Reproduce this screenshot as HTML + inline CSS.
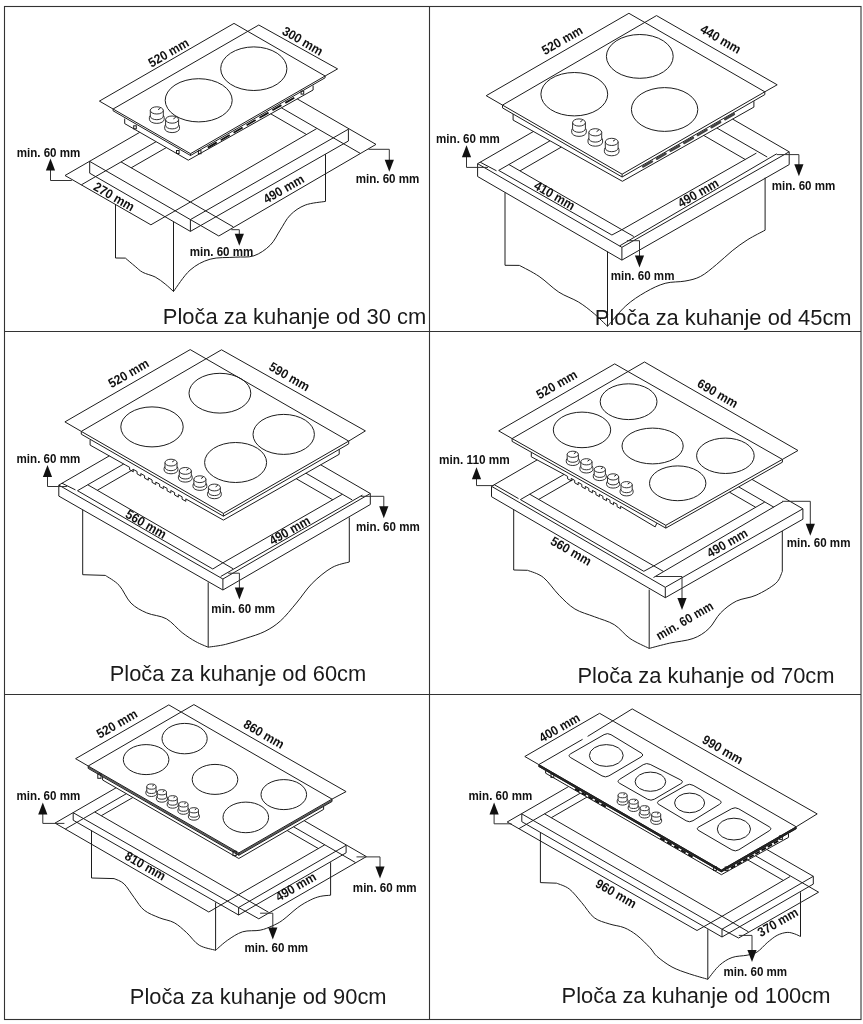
<!DOCTYPE html>
<html><head><meta charset="utf-8"><title>Ploce za kuhanje</title>
<style>
html,body{margin:0;padding:0;background:#fff}
body{width:863px;height:1024px;overflow:hidden}
svg{display:block;filter:grayscale(1)}
path,ellipse,rect{fill:none;stroke:#1c1c1c;stroke-width:1}
.fr{stroke:#333;stroke-width:1.1}
.kn{fill:#fff;stroke-width:.9}
.w{fill:#fff}
.tk{stroke-width:2.3;stroke:#2a2a2a}
.gb{stroke:#555;stroke-width:1.5}
.sl{stroke-width:1.9;stroke:#111}
.so{stroke-width:2.6;stroke:#444;stroke-linecap:round}
.ld{stroke:#333;stroke-width:1}
.ah{fill:#111;stroke:none}
text{font-family:"Liberation Sans",sans-serif;fill:#111}
.b{font-weight:bold}
.c{font-weight:normal;fill:#1a1a1a}
</style></head><body>
<svg width="863" height="1024" viewBox="0 0 863 1024">
<rect x="4.5" y="6.5" width="856.5" height="1013" class="fr"/>
<path class="fr" d="M429.5 6.5V1019.5M4.5 331.5H861M4.5 694.5H861"/>
<path d="M113.1 109L99.4 101.1L234 23.4L247.7 31.3"/>
<path d="M113.1 109L258.8 25L337.6 68.9L325.1 76"/>
<path d="M247.7 31.3L325.1 76"/>
<path class="tk2" d="M113.1 109L190.5 153.7L325.1 76"/>
<path d="M113.1 110.8L190.5 155.5L325.1 77.8"/>
<path d="M113.1 109L113.1 110.8"/>
<path d="M190.5 153.7L190.5 155.5"/>
<path d="M325.1 76L325.1 77.8"/>
<path d="M124.7 118.6L124.7 123.6L188.3 160.2L313.1 90L313.1 85.5"/>
<rect x="133.7" y="125.8" width="2.6" height="3"/>
<rect x="176.5" y="150.5" width="2.6" height="3"/>
<rect x="198.4" y="150.7" width="2.6" height="3"/>
<rect x="301.1" y="91.1" width="2.6" height="3"/>
<path class="sl" d="M207.8 147.6L216.8 142.4"/>
<path class="sl" d="M220.7 140.2L229.7 135"/>
<path class="sl" d="M233.6 132.7L242.6 127.5"/>
<path class="sl" d="M246.6 125.2L255.6 120"/>
<path class="sl" d="M259.5 117.8L268.5 112.6"/>
<path class="sl" d="M272.4 110.3L281.4 105.1"/>
<path class="sl" d="M285.3 102.9L294.3 97.7"/>
<ellipse cx="198.7" cy="100.3" rx="33.5" ry="21.6"/>
<ellipse cx="253.8" cy="68.7" rx="33.1" ry="21.8"/>
<path class="kn" d="M149.4 117.4V119.3A7.4 4.1 0 0 0 164.2 119.3V117.4A7.4 4.1 0 0 0 149.4 117.4Z"/>
<path class="kn" d="M150.3 110.4V116.1A6.5 3.6 0 0 0 163.3 116.1V110.4Z"/>
<ellipse class="kn" cx="156.8" cy="110.4" rx="6.5" ry="3.6"/>
<path d="M158.1 109.7L160.4 108.1"/>
<path class="kn" d="M164.7 126.6V128.5A7.4 4.1 0 0 0 179.5 128.5V126.6A7.4 4.1 0 0 0 164.7 126.6Z"/>
<path class="kn" d="M165.6 119.6V125.3A6.5 3.6 0 0 0 178.6 125.3V119.6Z"/>
<ellipse class="kn" cx="172.1" cy="119.6" rx="6.5" ry="3.6"/>
<path d="M173.4 118.9L175.7 117.3"/>
<path d="M65 175.5L139.8 132.3"/>
<path d="M81.4 184.8L156.1 141.7"/>
<path d="M131.2 167.8L166.3 147.6"/>
<path d="M121 161.9L190.4 202L233.3 226.9"/>
<path d="M89.7 161.4L190.4 219.6L218.8 236"/>
<path d="M89.7 173.2L190.4 231.4"/>
<path d="M89.7 161.4L89.7 173.2"/>
<path d="M190.4 219.6L190.4 231.4"/>
<path d="M65 175.5L150.9 224.8"/>
<path d="M150.9 224.8L190.4 202L316.7 128.6"/>
<path d="M190.4 219.6L348.4 129.2"/>
<path d="M190.4 231.4L348.4 141"/>
<path d="M348.4 129.2L348.4 141"/>
<path d="M218.8 236L376 144.4"/>
<path d="M376 144.4L297.2 98.9"/>
<path d="M360.1 153.3L281.4 107.8"/>
<path d="M306.5 134.5L270.7 113.8"/>
<path d="M115.5 204.6L115.5 258L125.4 258.1C127 259.5 132.3 264 135.2 266.4C138.1 268.8 139.4 270.5 142.7 272.3C146 274.1 151.4 275.1 155.2 277C158.9 278.9 162.1 281.6 165.2 284C168.2 286.4 172.1 290.2 173.5 291.5L173.5 221.8"/>
<path d="M173.5 291.5C176.2 287.9 183.9 275.6 190 270.2C196.1 264.8 202.6 261.4 210.1 259.2C217.6 257 227.8 257.8 235.1 257.2C242.4 256.6 248.1 257.8 253.9 255.8C259.8 253.8 265.8 249.5 270.2 245.2C274.6 240.9 276.9 235.1 280.2 230.1C283.5 225.1 286 219.3 290.2 215.1C294.4 210.9 299.3 207.4 305.2 205.1C311.1 202.8 322.1 202 325.5 201.4L325.5 154.2"/>
<path class="ld" d="M71.8 180.5H50.5V169"/>
<path class="ah" d="M50.5 158.5L45.9 170.5L55.1 170.5Z"/>
<path class="ld" d="M231.3 229.7H239.3V236"/>
<path class="ah" d="M239.3 245.8L234.7 233.8L243.9 233.8Z"/>
<path class="ld" d="M368.5 149.3H389.3V161"/>
<path class="ah" d="M389.3 171.8L384.7 159.8L393.9 159.8Z"/>
<text class="b" transform="translate(170.7 56.5) rotate(-30)" font-size="13" text-anchor="middle" textLength="44.6" lengthAdjust="spacingAndGlyphs">520 mm</text>
<text class="b" transform="translate(300.5 44.8) rotate(30)" font-size="13" text-anchor="middle" textLength="44.6" lengthAdjust="spacingAndGlyphs">300 mm</text>
<text class="b" transform="translate(111.8 200.5) rotate(30)" font-size="13" text-anchor="middle" textLength="44.6" lengthAdjust="spacingAndGlyphs">270 mm</text>
<text class="b" transform="translate(285.9 192.8) rotate(-30)" font-size="13" text-anchor="middle" textLength="44.6" lengthAdjust="spacingAndGlyphs">490 mm</text>
<text class="b" transform="translate(48.5 156.7)" font-size="13" text-anchor="middle" textLength="63.7" lengthAdjust="spacingAndGlyphs">min. 60 mm</text>
<text class="b" transform="translate(221.5 255.8)" font-size="13" text-anchor="middle" textLength="63.7" lengthAdjust="spacingAndGlyphs">min. 60 mm</text>
<text class="b" transform="translate(387.5 182.8)" font-size="13" text-anchor="middle" textLength="63.7" lengthAdjust="spacingAndGlyphs">min. 60 mm</text>
<text class="c" transform="translate(294.5 324.2)" font-size="22" text-anchor="middle" textLength="263.4" lengthAdjust="spacingAndGlyphs">Ploča za kuhanje od 30 cm</text>
<path d="M502.5 105.1L486.2 95.7L628.9 13.3L645.2 22.7"/>
<path d="M502.5 105.1L656.5 15.6L777.2 84.8L764.8 91.8"/>
<path d="M645.2 22.7L764.8 91.8"/>
<path d="M502.5 105.1L622.1 174.2L764.8 91.8"/>
<path d="M502.5 107.9L622.1 177L764.8 94.6"/>
<path d="M502.5 105.1L502.5 107.9"/>
<path d="M622.1 174.2L622.1 177"/>
<path d="M764.8 91.8L764.8 94.6"/>
<path d="M513.1 114L513.1 120.1L622.4 181.3L753.9 107.1L753.9 101.2"/>
<path class="so" d="M643.3 166.5L651.9 161.5"/>
<path class="so" d="M657 158.6L665.5 153.6"/>
<path class="so" d="M670.6 150.7L679.2 145.8"/>
<path class="so" d="M684.3 142.8L692.9 137.9"/>
<path class="so" d="M697.9 135L706.5 130"/>
<path class="so" d="M711.6 127.1L720.1 122.1"/>
<path class="so" d="M725.2 119.2L733.8 114.2"/>
<ellipse cx="574.3" cy="94.2" rx="33.4" ry="21.7"/>
<ellipse cx="639.8" cy="56.4" rx="33.4" ry="21.9"/>
<ellipse cx="664.6" cy="109.5" rx="33.2" ry="21.9"/>
<path class="kn" d="M571.7 130.2V132.3A7.3 4.1 0 0 0 586.3 132.3V130.2A7.3 4.1 0 0 0 571.7 130.2Z"/>
<path class="kn" d="M572.6 122.5V128.7A6.4 3.6 0 0 0 585.4 128.7V122.5Z"/>
<ellipse class="kn" cx="579" cy="122.5" rx="6.4" ry="3.6"/>
<path d="M580.3 121.8L582.5 120.3"/>
<path class="kn" d="M588 140V142.1A7.3 4.1 0 0 0 602.6 142.1V140A7.3 4.1 0 0 0 588 140Z"/>
<path class="kn" d="M588.9 132.3V138.5A6.4 3.6 0 0 0 601.7 138.5V132.3Z"/>
<ellipse class="kn" cx="595.3" cy="132.3" rx="6.4" ry="3.6"/>
<path d="M596.6 131.6L598.8 130.1"/>
<path class="kn" d="M604.4 149.6V151.7A7.3 4.1 0 0 0 619 151.7V149.6A7.3 4.1 0 0 0 604.4 149.6Z"/>
<path class="kn" d="M605.3 141.9V148.1A6.4 3.6 0 0 0 618.1 148.1V141.9Z"/>
<ellipse class="kn" cx="611.7" cy="141.9" rx="6.4" ry="3.6"/>
<path d="M613 141.2L615.2 139.7"/>
<path d="M477.6 163.7L621.9 247.3L789.2 151.8"/>
<path d="M477.6 176.5L621.9 260.1L789.2 164.6"/>
<path d="M477.6 163.7L477.6 176.5"/>
<path d="M621.9 247.3L621.9 260.1"/>
<path d="M789.2 151.8L789.2 164.6"/>
<path d="M477.6 163.7L533.4 131.5"/>
<path d="M498.7 170.4L550 140.8"/>
<path d="M520 170.9L561.3 147.1"/>
<path d="M480.2 162.2L496.5 170.8"/>
<path d="M498.7 170.4L611.9 235"/>
<path d="M611.9 235L621.9 229.7L756.4 153.1"/>
<path d="M508.9 164.5L621.9 229.7L633.8 236.5"/>
<path d="M619.6 245.9L776.7 153.8"/>
<path d="M767.2 157L716.9 128"/>
<path d="M745.3 159.5L703.7 135.4"/>
<path d="M789.2 151.8L732.6 119.1"/>
<path d="M505 192.5L505 265.3L519.4 265.4C522.7 267.2 532.5 271.9 539.1 276.4C545.7 280.8 552.2 287.8 558.8 292.1C565.4 296.4 572.6 298.4 578.5 302C584.4 305.6 589.5 309.8 594.3 313.8C599.1 317.9 605.3 324.2 607.5 326.3L607.5 251.5"/>
<path d="M607.5 326.3C610.5 322.9 619.5 311.6 625.8 305.9C632.1 300.2 638.9 295.9 645.5 292.1C652.1 288.3 658.6 285.1 665.2 283.3C671.8 281.5 679 282.2 684.9 281.1C690.8 280 695.4 279.1 700.6 276.4C705.9 273.6 711.1 268.9 716.4 264.6C721.7 260.3 727 255 732.2 250.8C737.5 246.6 742.4 242.9 747.9 239.5C753.4 236.1 762.2 231.8 765.1 230.2L765.1 177.7"/>
<path class="ld" d="M488 167.4H466.5V157"/>
<path class="ah" d="M466.5 145.2L461.9 157.2L471.1 157.2Z"/>
<path class="ld" d="M626.9 240.7H639.5V256"/>
<path class="ah" d="M639.5 267.6L634.9 255.6L644.1 255.6Z"/>
<path class="ld" d="M776.7 154.6H798.9V165"/>
<path class="ah" d="M798.9 176.3L794.3 164.3L803.5 164.3Z"/>
<text class="b" transform="translate(564.4 44) rotate(-30)" font-size="13" text-anchor="middle" textLength="44.6" lengthAdjust="spacingAndGlyphs">520 mm</text>
<text class="b" transform="translate(718.5 42.9) rotate(30)" font-size="13" text-anchor="middle" textLength="44.6" lengthAdjust="spacingAndGlyphs">440 mm</text>
<text class="b" transform="translate(552.3 199.3) rotate(30)" font-size="13" text-anchor="middle" textLength="44.6" lengthAdjust="spacingAndGlyphs">410 mm</text>
<text class="b" transform="translate(700.4 196.8) rotate(-30)" font-size="13" text-anchor="middle" textLength="44.6" lengthAdjust="spacingAndGlyphs">490 mm</text>
<text class="b" transform="translate(467.9 142.5)" font-size="13" text-anchor="middle" textLength="63.7" lengthAdjust="spacingAndGlyphs">min. 60 mm</text>
<text class="b" transform="translate(642.6 280.1)" font-size="13" text-anchor="middle" textLength="63.7" lengthAdjust="spacingAndGlyphs">min. 60 mm</text>
<text class="b" transform="translate(803.5 189.6)" font-size="13" text-anchor="middle" textLength="63.7" lengthAdjust="spacingAndGlyphs">min. 60 mm</text>
<text class="c" transform="translate(723.2 324.5)" font-size="22" text-anchor="middle" textLength="256.8" lengthAdjust="spacingAndGlyphs">Ploča za kuhanje od 45cm</text>
<path d="M81.3 431.4L64.9 421.9L190.2 349.6L206.6 359.1"/>
<path d="M81.3 431.4L221.5 349.8L365.4 430.9L348.7 441.1"/>
<path d="M206.6 359.1L348.7 441.1"/>
<path d="M81.3 431.4L223.4 513.4L348.7 441.1"/>
<path d="M81.3 434.2L223.4 516.2L348.7 443.9"/>
<path d="M81.3 431.4L81.3 434.2"/>
<path d="M223.4 513.4L223.4 516.2"/>
<path d="M348.7 441.1L348.7 443.9"/>
<path d="M90.1 440L90.1 445.1L125.8 465.2"/>
<path d="M125.8 465.2L129.6 467.3L129.6 469.7L133.3 471.8L133.3 469.4L137.1 471.5L137.1 473.9L140.8 476L140.8 473.6L144.6 475.7L144.6 478.1L148.3 480.2L148.3 477.8L152.1 480L152.1 482.4L155.8 484.5L155.8 482.1L159.6 484.2L159.6 486.6L163.3 488.7L163.3 486.3L167.1 488.4L167.1 490.8L170.8 492.9L170.8 490.5L174.6 492.6L174.6 495L178.3 497.1L178.3 494.7L182.1 496.8L182.1 499.2L185.8 501.3L185.8 498.9"/>
<path d="M185.8 498.9L223.4 520.1L339.2 454.3L339.2 449.2"/>
<ellipse cx="152" cy="426.9" rx="31.2" ry="20"/>
<ellipse cx="219.9" cy="393.2" rx="30.9" ry="19.9"/>
<ellipse cx="235.6" cy="462.5" rx="31" ry="20"/>
<ellipse cx="283.7" cy="434.4" rx="30.7" ry="20"/>
<path class="kn" d="M164.1 468.4V469.9A6.9 3.9 0 0 0 177.9 469.9V468.4A6.9 3.9 0 0 0 164.1 468.4Z"/>
<path class="kn" d="M165 462.6V467.3A6 3.4 0 0 0 177 467.3V462.6Z"/>
<ellipse class="kn" cx="171" cy="462.6" rx="6" ry="3.4"/>
<path d="M172.2 461.9L174.3 460.5"/>
<path class="kn" d="M178.4 476.7V478.2A6.9 3.9 0 0 0 192.2 478.2V476.7A6.9 3.9 0 0 0 178.4 476.7Z"/>
<path class="kn" d="M179.3 470.9V475.6A6 3.4 0 0 0 191.3 475.6V470.9Z"/>
<ellipse class="kn" cx="185.3" cy="470.9" rx="6" ry="3.4"/>
<path d="M186.5 470.2L188.6 468.8"/>
<path class="kn" d="M193 485V486.5A6.9 3.9 0 0 0 206.8 486.5V485A6.9 3.9 0 0 0 193 485Z"/>
<path class="kn" d="M193.9 479.2V483.9A6 3.4 0 0 0 205.9 483.9V479.2Z"/>
<ellipse class="kn" cx="199.9" cy="479.2" rx="6" ry="3.4"/>
<path d="M201.1 478.5L203.2 477.1"/>
<path class="kn" d="M207.5 493.3V494.8A6.9 3.9 0 0 0 221.3 494.8V493.3A6.9 3.9 0 0 0 207.5 493.3Z"/>
<path class="kn" d="M208.4 487.5V492.2A6 3.4 0 0 0 220.4 492.2V487.5Z"/>
<ellipse class="kn" cx="214.4" cy="487.5" rx="6" ry="3.4"/>
<path d="M215.6 486.8L217.7 485.4"/>
<path d="M58.8 485.1L222.9 579L370.3 493.5"/>
<path d="M58.8 496.1L222.9 590L370.3 504.5"/>
<path d="M58.8 485.1L58.8 496.1"/>
<path d="M222.9 579L222.9 590"/>
<path d="M370.3 493.5L370.3 504.5"/>
<path d="M58.8 485.1L109.3 455.9"/>
<path d="M77.5 490.7L123.7 464"/>
<path d="M97.3 490.3L133.4 469.4"/>
<path d="M61.9 483.2L75.5 489.9"/>
<path d="M77.5 490.7L212.8 569"/>
<path d="M212.8 569L222.9 562.8L342.3 494.3"/>
<path d="M87.8 484.8L222.9 562.8L233.2 568.8"/>
<path d="M220.7 576.5L362.4 495.1"/>
<path d="M352.2 499.9L305.9 473.2"/>
<path d="M332.8 499.8L296.2 478.7"/>
<path d="M370.3 493.5L320.7 464.8"/>
<path d="M82.7 509.8L82.7 574.7L105.3 575.4C107.6 577 114.8 580.7 119.1 585.3C123.4 589.9 126.3 598.4 130.9 603C135.5 607.6 140.8 610.3 146.7 612.9C152.6 615.5 160.5 615.5 166.4 618.8C172.3 622.1 177.2 628.8 182.1 632.6C187 636.4 191.6 639.3 195.9 641.7C200.2 644.1 206.1 646.3 208.2 647.2L208.2 582.4"/>
<path d="M208.2 647.2C211.1 646.7 219.3 645.9 225.5 644.4C231.7 642.9 238.6 640.7 245.2 638.5C251.8 636.3 259 634.4 264.9 631.4C270.8 628.4 275.4 625.5 280.6 620.8C285.9 616.1 291.1 609.2 296.4 603C301.7 596.8 306.3 589.2 312.2 583.3C318.1 577.4 325.7 571.1 331.9 567.6C338.1 564.1 346.4 562.9 349.3 562L349.3 517.4"/>
<path class="ld" d="M66.9 486.5H47.5V477"/>
<path class="ah" d="M47.5 465L42.9 477L52.1 477Z"/>
<path class="ld" d="M228.2 573.2H239.4V588"/>
<path class="ah" d="M239.4 599.4L234.8 587.4L244 587.4Z"/>
<path class="ld" d="M360.8 496.3H383.8V507"/>
<path class="ah" d="M383.8 518.2L379.2 506.2L388.4 506.2Z"/>
<text class="b" transform="translate(130.7 377.2) rotate(-30)" font-size="13" text-anchor="middle" textLength="44.6" lengthAdjust="spacingAndGlyphs">520 mm</text>
<text class="b" transform="translate(287.2 380.5) rotate(30)" font-size="13" text-anchor="middle" textLength="44.6" lengthAdjust="spacingAndGlyphs">590 mm</text>
<text class="b" transform="translate(143.8 528) rotate(30)" font-size="13" text-anchor="middle" textLength="44.6" lengthAdjust="spacingAndGlyphs">560 mm</text>
<text class="b" transform="translate(291.8 534.3) rotate(-30)" font-size="13" text-anchor="middle" textLength="44.6" lengthAdjust="spacingAndGlyphs">490 mm</text>
<text class="b" transform="translate(48.4 462.5)" font-size="13" text-anchor="middle" textLength="63.7" lengthAdjust="spacingAndGlyphs">min. 60 mm</text>
<text class="b" transform="translate(243.2 612.6)" font-size="13" text-anchor="middle" textLength="63.7" lengthAdjust="spacingAndGlyphs">min. 60 mm</text>
<text class="b" transform="translate(387.9 531)" font-size="13" text-anchor="middle" textLength="63.7" lengthAdjust="spacingAndGlyphs">min. 60 mm</text>
<text class="c" transform="translate(238 680.6)" font-size="22" text-anchor="middle" textLength="256.5" lengthAdjust="spacingAndGlyphs">Ploča za kuhanje od 60cm</text>
<path d="M512.1 438.6L498.7 430.9L614.7 363.9L628.1 371.6"/>
<path d="M512.1 438.6L644.5 362L798 450.5L782.4 459.4"/>
<path d="M628.1 371.6L782.4 459.4"/>
<path d="M512.1 438.6L665.8 525.3L782.4 459.4"/>
<path d="M512.1 441.4L665.8 528.1L782.4 462.2"/>
<path d="M512.1 438.6L512.1 441.4"/>
<path d="M665.8 525.3L665.8 528.1"/>
<path d="M782.4 459.4L782.4 462.2"/>
<path d="M531.3 452.4L531.3 456.8L564.1 474.4"/>
<path d="M564.1 474.4L567.6 476.4L567.6 478.8L571.2 480.8L571.2 478.4L574.7 480.4L574.7 482.8L578.2 484.8L578.2 482.4L581.8 484.4L581.8 486.8L585.3 488.8L585.3 486.4L588.8 488.4L588.8 490.8L592.4 492.8L592.4 490.4L595.9 492.3L595.9 494.7L599.4 496.7L599.4 494.3L602.9 496.3L602.9 498.7L606.5 500.7L606.5 498.3L610 500.3L610 502.7L613.5 504.7L613.5 502.3L617.1 504.3L617.1 506.7L620.6 508.7L620.6 506.3"/>
<path d="M620.6 506.3L655.2 526.9L656.8 523.2"/>
<ellipse cx="582" cy="429.9" rx="28.7" ry="17.8"/>
<ellipse cx="628.6" cy="401.7" rx="28.4" ry="17.9"/>
<ellipse cx="652.6" cy="446" rx="30.6" ry="17.9"/>
<ellipse cx="677.7" cy="483.3" rx="28.2" ry="17.4"/>
<ellipse cx="725.4" cy="455.8" rx="28.8" ry="17.7"/>
<path class="kn" d="M566.3 460.3V461.9A6.5 3.6 0 0 0 579.3 461.9V460.3A6.5 3.6 0 0 0 566.3 460.3Z"/>
<path class="kn" d="M567.2 454.3V459.2A5.6 3.1 0 0 0 578.4 459.2V454.3Z"/>
<ellipse class="kn" cx="572.8" cy="454.3" rx="5.6" ry="3.1"/>
<path d="M573.9 453.7L575.9 452.4"/>
<path class="kn" d="M579.9 467.8V469.4A6.5 3.6 0 0 0 592.9 469.4V467.8A6.5 3.6 0 0 0 579.9 467.8Z"/>
<path class="kn" d="M580.8 461.8V466.7A5.6 3.1 0 0 0 592 466.7V461.8Z"/>
<ellipse class="kn" cx="586.4" cy="461.8" rx="5.6" ry="3.1"/>
<path d="M587.5 461.2L589.5 459.9"/>
<path class="kn" d="M593.3 475.4V477A6.5 3.6 0 0 0 606.3 477V475.4A6.5 3.6 0 0 0 593.3 475.4Z"/>
<path class="kn" d="M594.2 469.4V474.3A5.6 3.1 0 0 0 605.4 474.3V469.4Z"/>
<ellipse class="kn" cx="599.8" cy="469.4" rx="5.6" ry="3.1"/>
<path d="M600.9 468.8L602.9 467.5"/>
<path class="kn" d="M606.6 482.9V484.5A6.5 3.6 0 0 0 619.6 484.5V482.9A6.5 3.6 0 0 0 606.6 482.9Z"/>
<path class="kn" d="M607.5 476.9V481.8A5.6 3.1 0 0 0 618.7 481.8V476.9Z"/>
<ellipse class="kn" cx="613.1" cy="476.9" rx="5.6" ry="3.1"/>
<path d="M614.2 476.3L616.2 475"/>
<path class="kn" d="M620.1 490.7V492.3A6.5 3.6 0 0 0 633.1 492.3V490.7A6.5 3.6 0 0 0 620.1 490.7Z"/>
<path class="kn" d="M621 484.7V489.6A5.6 3.1 0 0 0 632.2 489.6V484.7Z"/>
<ellipse class="kn" cx="626.6" cy="484.7" rx="5.6" ry="3.1"/>
<path d="M627.7 484.1L629.7 482.8"/>
<path d="M491.5 486.3L665.3 587.3L802.9 508.8"/>
<path d="M491.5 496.7L665.3 597.7L802.9 519.2"/>
<path d="M491.5 486.3L491.5 496.7"/>
<path d="M665.3 587.3L665.3 597.7"/>
<path d="M802.9 508.8L802.9 519.2"/>
<path d="M491.5 486.3L537.2 459.9"/>
<path d="M520.4 499.6L564.1 474.4"/>
<path d="M538.7 499.4L573.2 479.5"/>
<path d="M494.3 484.7L518.5 498.6"/>
<path d="M520.4 499.6L643.8 571.3"/>
<path d="M643.8 571.3L653.8 565.9L764.7 502.1"/>
<path d="M529.7 494.2L653.8 565.9L663.2 571.3"/>
<path d="M653.5 577.5L783 501.6"/>
<path d="M773.9 507.2L738.7 486.9"/>
<path d="M755.7 507.3L729.4 492.1"/>
<path d="M802.9 508.8L752 479.4"/>
<path d="M513.7 509.6L513.7 570L527.6 570.3C530.2 571.5 538 573.2 543.3 577.4C548.5 581.5 553.8 589.9 559.1 595.2C564.4 600.5 569 605.4 574.9 609C580.8 612.6 588 614.2 594.6 616.8C601.2 619.4 608.4 621.1 614.3 624.7C620.2 628.3 624.2 634.5 630 638.5C635.8 642.5 646 646.8 649.2 648.4L649.2 589.6"/>
<path d="M649.2 648.4C652.6 647.5 662.1 644.9 669.4 643.2C676.7 641.6 686.5 640.9 693.1 638.5C699.7 636.1 704.2 633 708.8 628.7C713.4 624.4 716 617.5 720.6 612.9C725.2 608.3 730.5 604 736.4 601.1C742.3 598.2 749.5 598.2 756.1 595.2C762.7 592.2 771.4 587.2 775.8 583.3C780.2 579.3 781.2 573.5 782.3 571.5L782.3 531"/>
<path class="ld" d="M494.1 485.6H476.5V478"/>
<path class="ah" d="M476.5 467.2L471.9 479.2L481.1 479.2Z"/>
<path class="ld" d="M655.7 576.5H682V599"/>
<path class="ah" d="M682 610.1L677.4 598.1L686.6 598.1Z"/>
<path class="ld" d="M782.1 501.3H810.3V525"/>
<path class="ah" d="M810.3 535.8L805.7 523.8L814.9 523.8Z"/>
<text class="b" transform="translate(558.9 388.3) rotate(-30)" font-size="13" text-anchor="middle" textLength="44.6" lengthAdjust="spacingAndGlyphs">520 mm</text>
<text class="b" transform="translate(715.5 397.2) rotate(30)" font-size="13" text-anchor="middle" textLength="44.6" lengthAdjust="spacingAndGlyphs">690 mm</text>
<text class="b" transform="translate(568.8 554.8) rotate(30)" font-size="13" text-anchor="middle" textLength="44.6" lengthAdjust="spacingAndGlyphs">560 mm</text>
<text class="b" transform="translate(729.3 546.8) rotate(-30)" font-size="13" text-anchor="middle" textLength="44.6" lengthAdjust="spacingAndGlyphs">490 mm</text>
<text class="b" transform="translate(474.4 464.3)" font-size="13" text-anchor="middle" textLength="70.8" lengthAdjust="spacingAndGlyphs">min. 110 mm</text>
<text class="b" transform="translate(686.8 624.5) rotate(-30)" font-size="13" text-anchor="middle" textLength="63.7" lengthAdjust="spacingAndGlyphs">min. 60 mm</text>
<text class="b" transform="translate(818.6 547.4)" font-size="13" text-anchor="middle" textLength="63.7" lengthAdjust="spacingAndGlyphs">min. 60 mm</text>
<text class="c" transform="translate(706 682.6)" font-size="22" text-anchor="middle" textLength="257.1" lengthAdjust="spacingAndGlyphs">Ploča za kuhanje od 70cm</text>
<path d="M88.2 766L75.6 758.7L168.8 704.9L181.4 712.2"/>
<path d="M88.2 766L193.9 704.6L346.1 791.6L332 799.1"/>
<path d="M181.4 712.2L332 799.1"/>
<path class="gb" d="M88.2 767.2L238.8 854.1L332 800.3"/>
<path d="M88.2 766L238.8 852.9L332 799.1"/>
<path d="M88.2 768.4L238.8 855.3L332 801.5"/>
<path d="M88.2 766L88.2 768.4"/>
<path d="M238.8 852.9L238.8 855.3"/>
<path d="M332 799.1L332 801.5"/>
<path d="M102.6 776.9L102.6 780L238.8 858.5L323.6 809.4L323.6 806.6"/>
<rect x="97.8" y="773.9" width="3.2" height="4.4"/>
<rect x="233" y="851.2" width="3.2" height="4.4"/>
<ellipse cx="146.1" cy="759.6" rx="22.8" ry="15"/>
<ellipse cx="184.6" cy="738.6" rx="22.6" ry="15.2"/>
<ellipse cx="215" cy="779.4" rx="22.8" ry="15"/>
<ellipse cx="245.8" cy="817.4" rx="22.8" ry="15.3"/>
<ellipse cx="283.8" cy="794.6" rx="22.8" ry="15"/>
<path class="kn" d="M145.9 791.9V793.4A5.5 3.1 0 0 0 156.9 793.4V791.9A5.5 3.1 0 0 0 145.9 791.9Z"/>
<path class="kn" d="M146.8 786.6V790.9A4.6 2.6 0 0 0 156 790.9V786.6Z"/>
<ellipse class="kn" cx="151.4" cy="786.6" rx="4.6" ry="2.6"/>
<path d="M152.3 786.1L153.9 785"/>
<path class="kn" d="M156.4 797.6V799.1A5.5 3.1 0 0 0 167.4 799.1V797.6A5.5 3.1 0 0 0 156.4 797.6Z"/>
<path class="kn" d="M157.3 792.3V796.6A4.6 2.6 0 0 0 166.5 796.6V792.3Z"/>
<ellipse class="kn" cx="161.9" cy="792.3" rx="4.6" ry="2.6"/>
<path d="M162.8 791.8L164.4 790.7"/>
<path class="kn" d="M167.2 803.6V805.1A5.5 3.1 0 0 0 178.2 805.1V803.6A5.5 3.1 0 0 0 167.2 803.6Z"/>
<path class="kn" d="M168.1 798.3V802.6A4.6 2.6 0 0 0 177.3 802.6V798.3Z"/>
<ellipse class="kn" cx="172.7" cy="798.3" rx="4.6" ry="2.6"/>
<path d="M173.6 797.8L175.2 796.7"/>
<path class="kn" d="M177.9 809.7V811.2A5.5 3.1 0 0 0 188.9 811.2V809.7A5.5 3.1 0 0 0 177.9 809.7Z"/>
<path class="kn" d="M178.8 804.4V808.7A4.6 2.6 0 0 0 188 808.7V804.4Z"/>
<ellipse class="kn" cx="183.4" cy="804.4" rx="4.6" ry="2.6"/>
<path d="M184.3 803.9L185.9 802.8"/>
<path class="kn" d="M188.4 815.6V817.1A5.5 3.1 0 0 0 199.4 817.1V815.6A5.5 3.1 0 0 0 188.4 815.6Z"/>
<path class="kn" d="M189.3 810.3V814.6A4.6 2.6 0 0 0 198.5 814.6V810.3Z"/>
<ellipse class="kn" cx="193.9" cy="810.3" rx="4.6" ry="2.6"/>
<path d="M194.8 809.8L196.4 808.7"/>
<path d="M55 823.1L116.1 787.8"/>
<path d="M65.3 829L126.4 793.7"/>
<path d="M101.3 815.7L132.9 797.5"/>
<path d="M94.8 812L238.3 894.8L268.6 912.3"/>
<path d="M73.2 812.7L238.6 907.5L258.8 918.8"/>
<path d="M73.2 820.2L238.6 915"/>
<path d="M73.2 812.7L73.2 820.2"/>
<path d="M238.6 907.5L238.6 915"/>
<path d="M55 823.1L208.8 912"/>
<path d="M208.8 912L238.3 894.8L324.8 844.8"/>
<path d="M238.6 907.5L346.1 845.3"/>
<path d="M238.6 915L346.1 852.8"/>
<path d="M346.1 845.3L346.1 852.8"/>
<path d="M258.8 918.8L366.4 856.6"/>
<path d="M366.4 856.6L304.2 820.7"/>
<path d="M355.6 862.6L293.6 826.8"/>
<path d="M318.3 848.5L287.1 830.5"/>
<path d="M91.5 830.7L91.5 878L114.1 878.6C115.8 879.5 120.8 880.7 124.1 883.9C127.4 887.1 130.8 893.2 134.2 897.6C137.5 902 140 906.9 144.2 910.2C148.4 913.6 154.2 915.6 159.2 917.7C164.2 919.8 169.6 920.2 174.2 922.7C178.8 925.2 182.5 929 186.7 932.7C190.9 936.5 194.4 942.3 199.2 945.2C204 948.1 212.9 949.4 215.6 950.3L215.6 902.4"/>
<path d="M215.6 950.3C217.6 948.6 223.1 943.3 227.6 940.2C232.1 937.1 237.2 933.5 242.6 931.8C248 930.1 255.2 931.2 260.1 930.2C265 929.2 268.2 927.7 272 926C275.8 924.3 278.3 923.3 282.6 920.2C286.9 917.1 293.1 911 297.7 907.6C302.3 904.2 306.4 902 310.2 900.1C313.9 898.2 316.8 897.2 320.2 896.4C323.6 895.6 328.9 895.4 330.6 895.2L330.6 862.3"/>
<path class="ld" d="M64.4 823.4H42.8V814"/>
<path class="ah" d="M42.8 802.5L38.2 814.5L47.4 814.5Z"/>
<path class="ld" d="M260.1 913.2H272.8V928"/>
<path class="ah" d="M272.8 939.5L268.2 927.5L277.4 927.5Z"/>
<path class="ld" d="M356.5 856.9H380V868"/>
<path class="ah" d="M380 878.6L375.4 866.6L384.6 866.6Z"/>
<text class="b" transform="translate(119.1 727.7) rotate(-30)" font-size="13" text-anchor="middle" textLength="44.6" lengthAdjust="spacingAndGlyphs">520 mm</text>
<text class="b" transform="translate(261.7 738) rotate(30)" font-size="13" text-anchor="middle" textLength="44.6" lengthAdjust="spacingAndGlyphs">860 mm</text>
<text class="b" transform="translate(143.1 869.7) rotate(30)" font-size="13" text-anchor="middle" textLength="44.6" lengthAdjust="spacingAndGlyphs">810 mm</text>
<text class="b" transform="translate(298 890.5) rotate(-30)" font-size="13" text-anchor="middle" textLength="44.6" lengthAdjust="spacingAndGlyphs">490 mm</text>
<text class="b" transform="translate(48.4 799.5)" font-size="13" text-anchor="middle" textLength="63.7" lengthAdjust="spacingAndGlyphs">min. 60 mm</text>
<text class="b" transform="translate(276.3 952.4)" font-size="13" text-anchor="middle" textLength="63.7" lengthAdjust="spacingAndGlyphs">min. 60 mm</text>
<text class="b" transform="translate(384.7 892)" font-size="13" text-anchor="middle" textLength="63.7" lengthAdjust="spacingAndGlyphs">min. 60 mm</text>
<text class="c" transform="translate(258.2 1003.7)" font-size="22" text-anchor="middle" textLength="256.8" lengthAdjust="spacingAndGlyphs">Ploča za kuhanje od 90cm</text>
<path d="M538.8 764.6L524.8 756.5L599.6 713.3L613.6 721.4"/>
<path d="M538.8 764.6L582.6 739.3"/>
<path d="M587.6 736.4L632.2 708.9L817.2 813.9L796.2 826.8"/>
<path d="M613.6 721.4L796.2 826.8"/>
<path class="tk" d="M538.8 765.6L721.4 871L796.2 827.8"/>
<path d="M538.8 764.6L721.4 870L796.2 826.8"/>
<path d="M538.8 766.5L721.4 871.9L796.2 828.7"/>
<path d="M538.8 764.6L538.8 766.5"/>
<path d="M721.4 870L721.4 871.9"/>
<path d="M796.2 826.8L796.2 828.7"/>
<path d="M545.6 771L545.6 773.2L721.4 874.7L788.5 837.4L788.5 833.6"/>
<rect x="551" y="773.8" width="2.8" height="3.6"/>
<rect x="713.6" y="866.8" width="2.8" height="3.6"/>
<rect x="725.2" y="867" width="2.8" height="3.6"/>
<rect x="779.6" y="835.8" width="2.8" height="3.6"/>
<path class="sl" d="M575 788.9L579.4 791.4"/>
<path class="sl" d="M581.6 792.7L586 795.3"/>
<path class="sl" d="M588.2 796.5L592.6 799.1"/>
<path class="sl" d="M594.8 800.3L599.2 802.9"/>
<path class="sl" d="M601.4 804.1L605.8 806.7"/>
<path class="sl" d="M660.2 838.1L664.6 840.6"/>
<path class="sl" d="M667.2 842.1L671.6 844.7"/>
<path class="sl" d="M674.2 846.2L678.6 848.7"/>
<path class="sl" d="M681.2 850.2L685.6 852.8"/>
<path class="sl" d="M688.2 854.3L692.6 856.8"/>
<path class="sl" d="M730.8 868.2L735.2 865.7"/>
<path class="sl" d="M736.9 864.6L741.4 862.1"/>
<path class="sl" d="M743.1 861.1L747.5 858.6"/>
<path class="sl" d="M749.2 857.5L753.7 855"/>
<path class="sl" d="M755.4 854L759.8 851.5"/>
<path class="sl" d="M761.5 850.4L766 847.9"/>
<path class="sl" d="M767.7 846.9L772.1 844.4"/>
<path class="sl" d="M773.8 843.3L778.2 840.8"/>
<path d="M570.8 757.7Q567.3 755.7 570.8 753.7L604.1 734.6Q607.6 732.6 611 734.7L641 752.9Q644.4 755 641 757L608.9 775.9Q605.5 777.9 602 775.9Z"/>
<path d="M619.8 783.4Q616.3 781.4 619.7 779.3L643.2 764.7Q646.6 762.6 650.2 764.4L680.6 779.9Q684.2 781.7 680.8 783.7L654.4 799.2Q651 801.2 647.5 799.2Z"/>
<path d="M659.1 804.6Q655.7 802.6 659.2 800.6L686.1 785.3Q689.6 783.3 693.1 785.3L719.4 800.2Q722.9 802.2 719.5 804.3L693 820.7Q689.6 822.8 686.2 820.8Z"/>
<path d="M699 830.7Q695.5 828.7 699 826.8L731.7 808.7Q735.2 806.8 738.7 808.8L769.1 826.7Q772.6 828.7 769.2 830.8L738.8 849.8Q735.4 851.9 731.9 849.9Z"/>
<ellipse cx="606.3" cy="755.5" rx="16.9" ry="10.9"/>
<ellipse cx="650.4" cy="781.7" rx="15.3" ry="9.6"/>
<ellipse cx="689.6" cy="802.9" rx="15" ry="9.8"/>
<ellipse cx="733.9" cy="829.1" rx="16.6" ry="10.9"/>
<path class="kn" d="M617.2 800.6V802.1A5.4 3 0 0 0 628 802.1V800.6A5.4 3 0 0 0 617.2 800.6Z"/>
<path class="kn" d="M618.1 795.3V799.6A4.5 2.5 0 0 0 627.1 799.6V795.3Z"/>
<ellipse class="kn" cx="622.6" cy="795.3" rx="4.5" ry="2.5"/>
<path d="M623.5 794.8L625.1 793.7"/>
<path class="kn" d="M628.2 807V808.5A5.4 3 0 0 0 639 808.5V807A5.4 3 0 0 0 628.2 807Z"/>
<path class="kn" d="M629.1 801.7V806A4.5 2.5 0 0 0 638.1 806V801.7Z"/>
<ellipse class="kn" cx="633.6" cy="801.7" rx="4.5" ry="2.5"/>
<path d="M634.5 801.2L636.1 800.1"/>
<path class="kn" d="M639.2 813.5V815A5.4 3 0 0 0 650 815V813.5A5.4 3 0 0 0 639.2 813.5Z"/>
<path class="kn" d="M640.1 808.2V812.5A4.5 2.5 0 0 0 649.1 812.5V808.2Z"/>
<ellipse class="kn" cx="644.6" cy="808.2" rx="4.5" ry="2.5"/>
<path d="M645.5 807.7L647.1 806.6"/>
<path class="kn" d="M650.8 819.9V821.4A5.4 3 0 0 0 661.6 821.4V819.9A5.4 3 0 0 0 650.8 819.9Z"/>
<path class="kn" d="M651.7 814.6V818.9A4.5 2.5 0 0 0 660.7 818.9V814.6Z"/>
<ellipse class="kn" cx="656.2" cy="814.6" rx="4.5" ry="2.5"/>
<path d="M657.1 814.1L658.7 813"/>
<path d="M507.2 822L568.7 786.5"/>
<path d="M519 828.6L580.3 793.2"/>
<path d="M551.3 817.7L587 797.1"/>
<path d="M544.5 813.8L722 916.3L748.4 931.8"/>
<path d="M521.8 813.9L722 929.2L738.6 938"/>
<path d="M521.8 821.7L722 937"/>
<path d="M521.8 813.9L521.8 821.7"/>
<path d="M722 929.2L722 937"/>
<path d="M507.2 822L697 930.5"/>
<path d="M697 930.5L722 916.3L790.1 876.5"/>
<path d="M722 929.2L813.3 876.3"/>
<path d="M722 937L813.3 884.1"/>
<path d="M813.3 876.3L813.3 884.1"/>
<path d="M738.6 938L818.6 892.2"/>
<path d="M813.3 876.3L766.8 849.5"/>
<path d="M818.6 892.2L755.5 855.8"/>
<path d="M783.3 880.4L747.9 860"/>
<path d="M540.4 832.6L540.4 882.6L556.7 883.2C558.8 884.2 565 885.7 569.2 888.9C573.4 892.1 577.5 897.8 581.7 902.6C585.9 907.4 589.6 914.2 594.2 917.7C598.8 921.2 604.2 922.2 609.2 923.9C614.2 925.6 619.6 925.8 624.2 927.7C628.8 929.6 632.5 931.9 636.8 935.2C641.1 938.5 646.6 944.2 650 947.7C653.4 951.2 653.3 953.2 657 956.4C660.7 959.6 666.6 964.1 672 967C677.4 969.9 683.6 971.9 689.6 973.9C695.6 975.9 704.8 978.4 707.8 979.3L707.8 929.3"/>
<path d="M707.8 979.3C709.8 976.9 715.5 968.8 719.6 965.2C723.7 961.6 727.5 959.2 732.1 957.5C736.7 955.8 742.9 956.1 747.1 955.2C751.3 954.3 753.8 954.1 757.1 952C760.5 949.9 763.9 945.5 767.2 942.7C770.6 939.9 773.9 937 777.2 935.3C780.5 933.6 784.3 932.6 787.2 932.4C790.1 932.2 792.5 933.2 794.7 933.9C796.9 934.6 799.5 936.1 800.5 936.5L800.5 892.3"/>
<path class="ld" d="M511.6 823.8H494.1V814"/>
<path class="ah" d="M494.1 802.5L489.5 814.5L498.7 814.5Z"/>
<path class="ld" d="M738.8 935.4H752V951"/>
<path class="ah" d="M752 962L747.4 950L756.6 950Z"/>
<text class="b" transform="translate(561.6 731.5) rotate(-30)" font-size="13" text-anchor="middle" textLength="44.6" lengthAdjust="spacingAndGlyphs">400 mm</text>
<text class="b" transform="translate(720.5 753.5) rotate(30)" font-size="13" text-anchor="middle" textLength="44.6" lengthAdjust="spacingAndGlyphs">990 mm</text>
<text class="b" transform="translate(613.9 897.3) rotate(30)" font-size="13" text-anchor="middle" textLength="44.6" lengthAdjust="spacingAndGlyphs">960 mm</text>
<text class="b" transform="translate(780 926) rotate(-30)" font-size="13" text-anchor="middle" textLength="44.6" lengthAdjust="spacingAndGlyphs">370 mm</text>
<text class="b" transform="translate(500.4 799.5)" font-size="13" text-anchor="middle" textLength="63.7" lengthAdjust="spacingAndGlyphs">min. 60 mm</text>
<text class="b" transform="translate(755.3 976)" font-size="13" text-anchor="middle" textLength="63.7" lengthAdjust="spacingAndGlyphs">min. 60 mm</text>
<text class="c" transform="translate(696 1002.9)" font-size="22" text-anchor="middle" textLength="268.9" lengthAdjust="spacingAndGlyphs">Ploča za kuhanje od 100cm</text>
</svg>
</body></html>
